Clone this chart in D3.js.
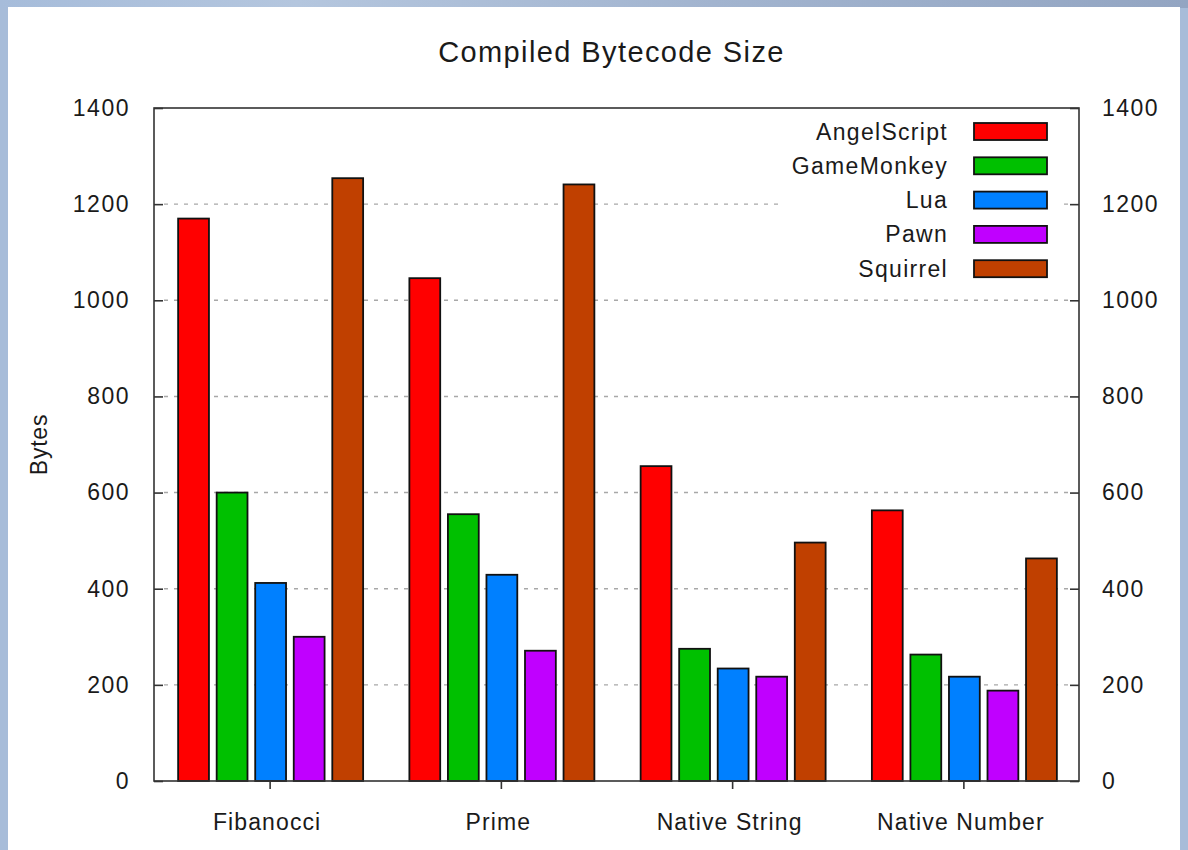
<!DOCTYPE html>
<html>
<head>
<meta charset="utf-8">
<script src="https://cdn.jsdelivr.net/npm/d3@7"></script>
<style>
  html, body { margin: 0; padding: 0; background: #a7bcd9; }
  svg { display: block; }
  text { font-family: "Liberation Sans", Arial, sans-serif; fill: #1a1a1a; }
</style>
</head>
<body>
<svg id="chart" width="1188" height="850"></svg>
<script>
// ---- data ----
const categories = ["Fibanocci", "Prime", "Native String", "Native Number"];
const seriesNames = ["AngelScript", "GameMonkey", "Lua", "Pawn", "Squirrel"];
const angelScript = [1170, 1046, 655, 563];
const gameMonkey  = [600, 555, 275, 263];
const lua         = [412, 429, 234, 217];
const pawn        = [300, 271, 217, 188];
const squirrel    = [1254, 1241, 496, 463];
const yTicks = [0, 200, 400, 600, 800, 1000, 1200, 1400];
const colors = ["#ff0000", "#00c000", "#0080ff", "#c000ff", "#c04000"];
const titleText = "Compiled Bytecode Size";
const yLabel = "Bytes";

const seriesValues = [angelScript, gameMonkey, lua, pawn, squirrel];

// ---- layout ----
const svg = d3.select("#chart");
const W = 1188, H = 850;
const plot = { left: 154, right: 1079, top: 108, bottom: 781 };

// background frame
const defs = svg.append("defs");
const grad = defs.append("linearGradient").attr("id", "topgrad").attr("x1", 0).attr("x2", 1).attr("y1", 0).attr("y2", 0);
grad.append("stop").attr("offset", "0%").attr("stop-color", "#a6bcda");
grad.append("stop").attr("offset", "25%").attr("stop-color", "#b4c6de");
grad.append("stop").attr("offset", "60%").attr("stop-color", "#a2b4cf");
grad.append("stop").attr("offset", "100%").attr("stop-color", "#93a5c2");
svg.append("rect").attr("x", 0).attr("y", 0).attr("width", W).attr("height", H).attr("fill", "#a7bcd9");
svg.append("rect").attr("x", 0).attr("y", 0).attr("width", W).attr("height", 8).attr("fill", "url(#topgrad)");
svg.append("rect").attr("x", 8).attr("y", 7).attr("width", 1172).attr("height", H - 7).attr("fill", "#ffffff");

// ---- scales ----
const x = d3.scaleLinear().domain([-0.5, categories.length - 0.5]).range([plot.left, plot.right]);
const y = d3.scaleLinear().domain([0, 1400]).range([plot.bottom, plot.top]);
const nS = seriesNames.length;
const slot = 1 / (nS + 1);      // clustered histogram, gap 1
const boxFrac = 0.8;

// gridlines
svg.append("g").selectAll("line")
  .data(yTicks.filter(t => t > 0 && t < 1400))
  .join("line")
  .attr("x1", plot.left + 10).attr("x2", plot.right - 10)
  .attr("y1", d => y(d)).attr("y2", d => y(d))
  .attr("stroke", "#a8a8a8").attr("stroke-width", 1.4)
  .attr("stroke-dasharray", "4,6");

// legend background (opaque key)
const legendRowH = 34.3;
const legendTop = 131.5;
svg.append("rect")
  .attr("x", 780).attr("y", legendTop - 18)
  .attr("width", 282).attr("height", legendRowH * nS + 4)
  .attr("fill", "#fff");

// bars
const barData = [];
categories.forEach((c, i) => {
  seriesValues.forEach((vals, j) => {
    barData.push({ i, j, v: vals[i] });
  });
});
svg.append("g").selectAll("rect")
  .data(barData)
  .join("rect")
  .attr("x", d => x(d.i + (d.j - (nS - 1) / 2) * slot - slot * boxFrac / 2) + 1)
  .attr("width", d => x(slot * boxFrac) - x(0))
  .attr("y", d => y(d.v))
  .attr("height", d => y(0) - y(d.v))
  .attr("fill", d => colors[d.j])
  .attr("stroke", "#111").attr("stroke-width", 1.8);

// frame
svg.append("rect")
  .attr("x", plot.left).attr("y", plot.top)
  .attr("width", plot.right - plot.left).attr("height", plot.bottom - plot.top)
  .attr("fill", "none").attr("stroke", "#333").attr("stroke-width", 1.6);

// left axis
const leftAxis = d3.axisLeft(y).tickValues(yTicks).tickSize(-9).tickPadding(24).tickFormat(d3.format("d"));
const gL = svg.append("g").attr("transform", `translate(${plot.left},0)`).call(leftAxis);
gL.select(".domain").remove();
gL.selectAll(".tick line").attr("stroke", "#333").attr("stroke-width", 1.6);
gL.selectAll(".tick text").attr("font-size", 23).attr("letter-spacing", 1.5)
  .attr("font-family", "Liberation Sans, Arial, sans-serif").attr("fill", "#1a1a1a");

// right axis
const rightAxis = d3.axisRight(y).tickValues(yTicks).tickSize(-9).tickPadding(23).tickFormat(d3.format("d"));
const gR = svg.append("g").attr("transform", `translate(${plot.right},0)`).call(rightAxis);
gR.select(".domain").remove();
gR.selectAll(".tick line").attr("stroke", "#333").attr("stroke-width", 1.6);
gR.selectAll(".tick text").attr("font-size", 23).attr("letter-spacing", 1.5)
  .attr("font-family", "Liberation Sans, Arial, sans-serif").attr("fill", "#1a1a1a");

// bottom axis
const bottomAxis = d3.axisBottom(x).tickValues(d3.range(categories.length))
  .tickSize(8).tickPadding(25).tickFormat(i => categories[i]);
const gB = svg.append("g").attr("transform", `translate(0,${plot.bottom})`).call(bottomAxis);
gB.select(".domain").remove();
gB.selectAll(".tick line").attr("stroke", "#333").attr("stroke-width", 1.6);
gB.selectAll(".tick text").attr("font-size", 23).attr("letter-spacing", 1.1)
  .attr("font-family", "Liberation Sans, Arial, sans-serif").attr("fill", "#1a1a1a")
  .attr("dx", "-3");

// title
svg.append("text")
  .attr("x", (plot.left + plot.right) / 2 - 5).attr("y", 62)
  .attr("text-anchor", "middle").attr("font-size", 29).attr("letter-spacing", 1.4)
  .text(titleText);

// y label
svg.append("text")
  .attr("transform", `translate(47,${(plot.top + plot.bottom) / 2}) rotate(-90)`)
  .attr("text-anchor", "middle").attr("font-size", 23).attr("letter-spacing", 0.8)
  .text(yLabel);

// legend
const lg = svg.append("g");
seriesNames.forEach((name, j) => {
  const cy = legendTop + j * legendRowH;
  lg.append("text")
    .attr("x", 948).attr("y", cy).attr("dy", "0.35em")
    .attr("text-anchor", "end").attr("font-size", 23).attr("letter-spacing", 1.3)
    .text(name);
  lg.append("rect")
    .attr("x", 974).attr("y", cy - 8.5).attr("width", 73).attr("height", 17)
    .attr("fill", colors[j]).attr("stroke", "#111").attr("stroke-width", 1.8);
});
</script>
</body>
</html>
